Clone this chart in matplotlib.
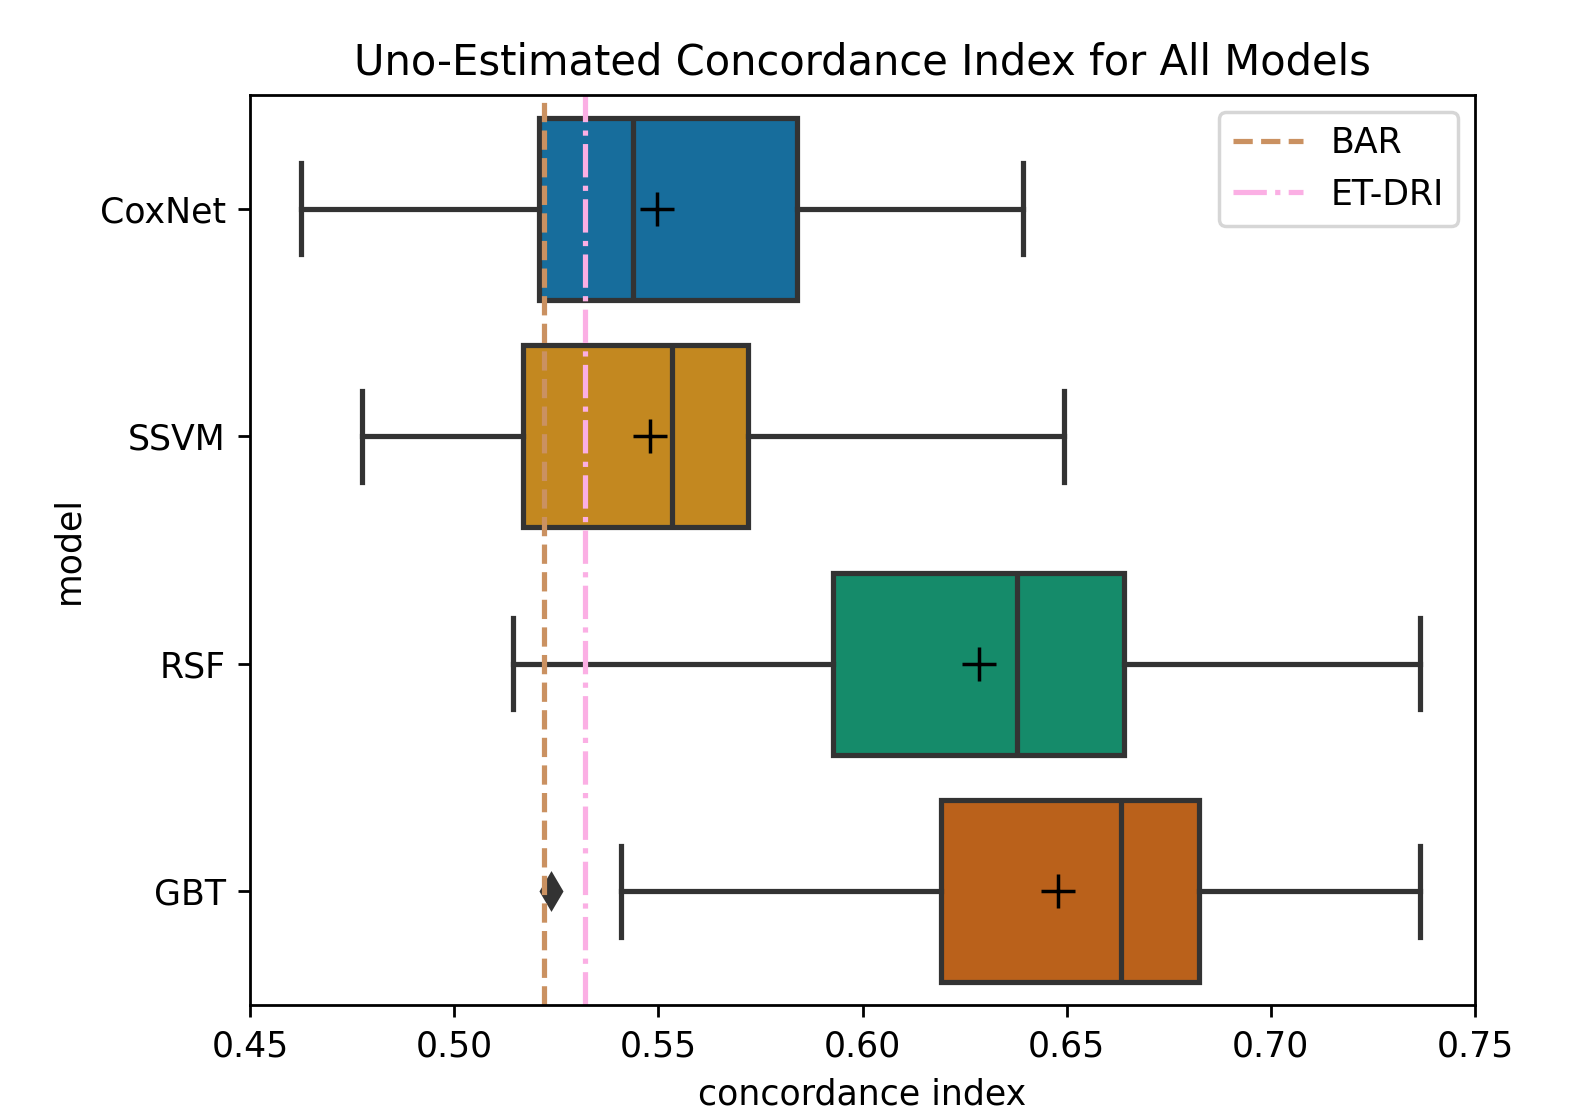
import matplotlib
matplotlib.use("Agg")
import matplotlib.pyplot as plt
import seaborn as sns

models = ["CoxNet", "SSVM", "RSF", "GBT"]
whisker_low = [0.4625, 0.4774, 0.5144, 0.5409]
q1 = [0.5208, 0.5169, 0.5928, 0.6192]
median = [0.5438, 0.5533, 0.6378, 0.6633]
q3 = [0.5840, 0.5720, 0.6640, 0.6824]
whisker_high = [0.6393, 0.6493, 0.7365, 0.7365]
means = [0.5497, 0.5480, 0.6285, 0.6479]
outliers = [[], [], [], [0.5237]]
bar_value = 0.5220
etdri_value = 0.5320

pal = sns.color_palette("colorblind")
box_colors = [sns.desaturate(c, 0.75) for c in pal[:4]]
line_color = "#333333"

DPI = 250
fig = plt.figure(figsize=(1571 / DPI, 1116 / DPI), dpi=DPI)
ax = fig.add_axes([250 / 1571, 1 - 1005 / 1116, (1475 - 250) / 1571, (1005 - 95) / 1116])

stats = []
for i, m in enumerate(models):
    stats.append(dict(label=m, whislo=whisker_low[i], q1=q1[i], med=median[i],
                      q3=q3[i], whishi=whisker_high[i], mean=means[i],
                      fliers=outliers[i]))

positions = list(range(len(models)))
lw = 1.5
bp = ax.bxp(stats, positions=positions, vert=False, widths=0.8, patch_artist=True,
            showmeans=True, showfliers=True,
            boxprops=dict(edgecolor=line_color, linewidth=lw),
            whiskerprops=dict(color=line_color, linewidth=lw),
            capprops=dict(color=line_color, linewidth=lw),
            medianprops=dict(color=line_color, linewidth=lw),
            meanprops=dict(marker="+", markeredgecolor="black", markerfacecolor="black",
                           markersize=10, markeredgewidth=1.0),
            flierprops=dict(marker="d", markerfacecolor=line_color, markeredgecolor=line_color,
                            markersize=7))
for patch, c in zip(bp["boxes"], box_colors):
    patch.set_facecolor(c)

ax.axvline(bar_value, color=pal[5], linestyle="--", linewidth=lw, label="BAR")
ax.axvline(etdri_value, color=pal[6], linestyle="-.", linewidth=lw, label="ET-DRI")

ax.set_ylim(3.5, -0.5)
ax.set_yticks(positions)
ax.set_yticklabels(models)
ax.set_xlim(0.45, 0.75)
ax.set_xticks([0.45, 0.50, 0.55, 0.60, 0.65, 0.70, 0.75])
ax.set_xticklabels(["0.45", "0.50", "0.55", "0.60", "0.65", "0.70", "0.75"])
ax.set_xlabel("concordance index")
ax.set_ylabel("model")
ax.set_title("Uno-Estimated Concordance Index for All Models")
ax.legend(loc="upper right")

fig.savefig("out.png", dpi=DPI)
